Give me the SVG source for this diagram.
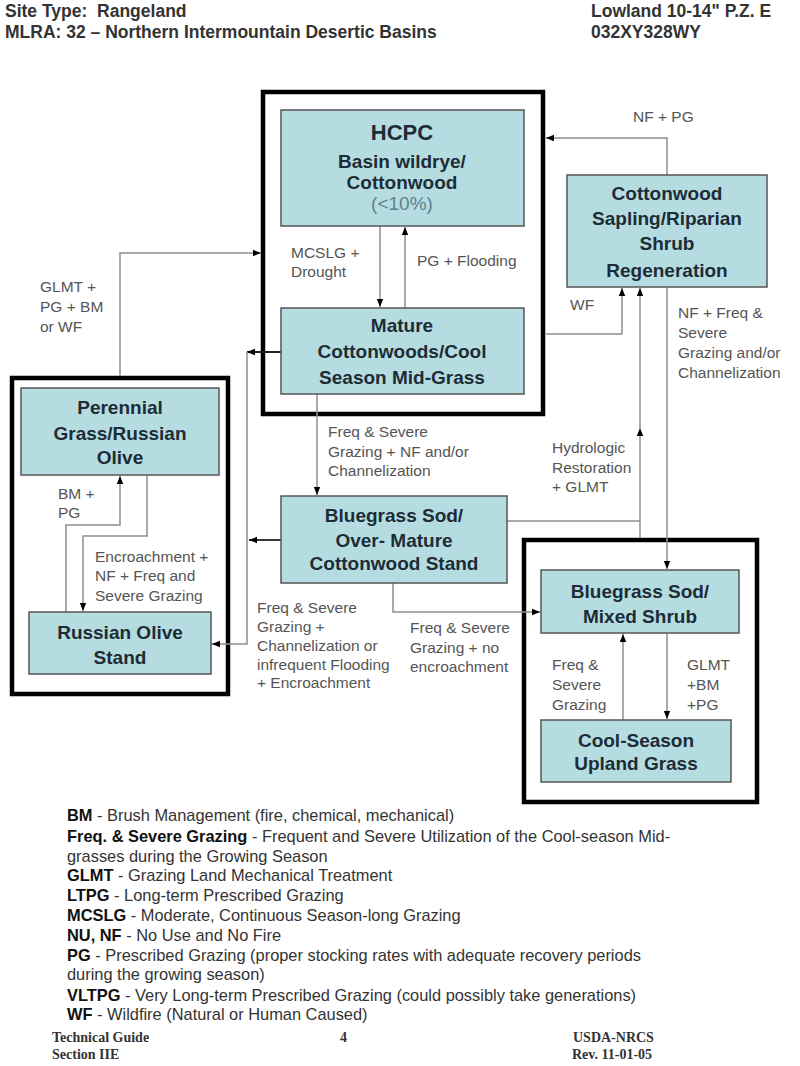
<svg xmlns="http://www.w3.org/2000/svg" width="800" height="1066" viewBox="0 0 800 1066">
<style>
.bg{fill:#ffffff}
.frame{fill:none;stroke:#000;stroke-width:4.5}
.node{fill:#b5dde1;stroke:#555;stroke-width:1.5}
.nt{font-family:"Liberation Sans",Arial,sans-serif;font-size:19px;font-weight:bold;fill:#1d2c36;text-anchor:middle}
.nt2{font-family:"Liberation Sans",Arial,sans-serif;font-size:19px;fill:#5f7f8c;text-anchor:middle}
.lbl{font-family:"Liberation Sans",Arial,sans-serif;font-size:15.5px;fill:#555}
.conn{fill:none;stroke:#8f8f8f;stroke-width:1.5}
.connd{fill:none;stroke:#222;stroke-width:1.8}
.hdr{font-family:"Liberation Sans",Arial,sans-serif;font-size:17.5px;font-weight:bold;fill:#333}
.leg{font-family:"Liberation Sans",Arial,sans-serif;font-size:16.4px;fill:#333}
.legb{font-weight:bold;fill:#111}
.ftr{font-family:"Liberation Serif","Times New Roman",serif;font-size:14px;font-weight:bold;fill:#333}
</style>
<defs>
<marker id="ah" viewBox="0 0 10 10" refX="10" refY="5" markerWidth="8" markerHeight="8" markerUnits="userSpaceOnUse" orient="auto">
<path d="M0,1 L10,5 L0,9 z" fill="#000"/>
</marker>
</defs>
<rect class="bg" x="0" y="0" width="800" height="1066"/>

<g id="header">
<text class="hdr" x="5" y="17" xml:space="preserve">Site Type:  Rangeland</text>
<text class="hdr" x="5" y="38">MLRA: 32 – Northern Intermountain Desertic Basins</text>
<text class="hdr" x="591" y="17">Lowland 10-14" P.Z. E</text>
<text class="hdr" x="591" y="38">032XY328WY</text>
</g>

<g id="frames">
<rect class="frame" x="263" y="92" width="280" height="322"/>
<rect class="frame" x="12" y="378" width="216" height="316"/>
<rect class="frame" x="524" y="540" width="233" height="262"/>
</g>

<g id="connectors">
<path class="conn" d="M380,226 V307" marker-end="url(#ah)"/>
<path class="conn" d="M405,308 V227" marker-end="url(#ah)"/>
<path class="conn" d="M120,376 V253 H261" marker-end="url(#ah)"/>
<path class="conn" d="M667,175 V138 H546" marker-end="url(#ah)"/>
<path class="conn" d="M546,334 H622 V288" marker-end="url(#ah)"/>
<path class="connd" d="M281,352 H247" marker-end="url(#ah)"/>
<path class="conn" d="M247,352 V644 H212" marker-end="url(#ah)"/>
<path class="connd" d="M281,540 H249" marker-end="url(#ah)"/>
<path class="conn" d="M317,394 V495" marker-end="url(#ah)"/>
<path class="conn" d="M507,521 H640"/>
<path class="conn" d="M640,538 V428" marker-end="url(#ah)"/>
<path class="conn" d="M640,430 V288" marker-end="url(#ah)"/>
<path class="conn" d="M667,288 V569" marker-end="url(#ah)"/>
<path class="conn" d="M393,583 V612 H540" marker-end="url(#ah)"/>
<path class="conn" d="M623,720 V634" marker-end="url(#ah)"/>
<path class="conn" d="M667,634 V719" marker-end="url(#ah)"/>
<path class="conn" d="M66,612 V525 H120 V476" marker-end="url(#ah)"/>
<path class="conn" d="M147,476 V536 H83 V611" marker-end="url(#ah)"/>
</g>

<g id="labels">
<text class="lbl" x="291" y="258">MCSLG +</text>
<text class="lbl" x="291" y="277">Drought</text>
<text class="lbl" x="417" y="266">PG + Flooding</text>
<text class="lbl" x="40" y="292">GLMT +</text>
<text class="lbl" x="40" y="312">PG + BM</text>
<text class="lbl" x="40" y="332">or WF</text>
<text class="lbl" x="633" y="122">NF + PG</text>
<text class="lbl" x="570" y="310">WF</text>
<text class="lbl" x="678" y="318">NF + Freq &amp;</text>
<text class="lbl" x="678" y="338">Severe</text>
<text class="lbl" x="678" y="358">Grazing and/or</text>
<text class="lbl" x="678" y="378">Channelization</text>
<text class="lbl" x="328" y="437">Freq &amp; Severe</text>
<text class="lbl" x="328" y="457">Grazing + NF and/or</text>
<text class="lbl" x="328" y="476">Channelization</text>
<text class="lbl" x="552" y="453">Hydrologic</text>
<text class="lbl" x="552" y="473">Restoration</text>
<text class="lbl" x="552" y="492">+ GLMT</text>
<text class="lbl" x="58" y="499">BM +</text>
<text class="lbl" x="58" y="518">PG</text>
<text class="lbl" x="95" y="562">Encroachment +</text>
<text class="lbl" x="95" y="581">NF + Freq and</text>
<text class="lbl" x="95" y="601">Severe Grazing</text>
<text class="lbl" x="257" y="613">Freq &amp; Severe</text>
<text class="lbl" x="257" y="632">Grazing +</text>
<text class="lbl" x="257" y="651">Channelization or</text>
<text class="lbl" x="257" y="670">infrequent Flooding</text>
<text class="lbl" x="257" y="688">+ Encroachment</text>
<text class="lbl" x="410" y="633">Freq &amp; Severe</text>
<text class="lbl" x="410" y="653">Grazing + no</text>
<text class="lbl" x="410" y="672">encroachment</text>
<text class="lbl" x="552" y="670">Freq &amp;</text>
<text class="lbl" x="552" y="690">Severe</text>
<text class="lbl" x="552" y="710">Grazing</text>
<text class="lbl" x="687" y="670">GLMT</text>
<text class="lbl" x="687" y="690">+BM</text>
<text class="lbl" x="687" y="710">+PG</text>
</g>

<g id="hcpc">
<rect class="node" x="281" y="110" width="243" height="116"/>
<text class="nt" x="402" y="140" style="font-size:22px">HCPC</text>
<text class="nt" x="402" y="168">Basin wildrye/</text>
<text class="nt" x="402" y="189">Cottonwood</text>
<text class="nt2" x="402" y="210">(&lt;10%)</text>
</g>

<g id="mature">
<rect class="node" x="281" y="308" width="243" height="86"/>
<text class="nt" x="402" y="332">Mature</text>
<text class="nt" x="402" y="358">Cottonwoods/Cool</text>
<text class="nt" x="402" y="384">Season Mid-Grass</text>
</g>

<g id="cottonwood-sapling">
<rect class="node" x="567" y="175" width="200" height="112"/>
<text class="nt" x="667" y="200">Cottonwood</text>
<text class="nt" x="667" y="225">Sapling/Riparian</text>
<text class="nt" x="667" y="250">Shrub</text>
<text class="nt" x="667" y="277">Regeneration</text>
</g>

<g id="perennial">
<rect class="node" x="21" y="388" width="198" height="87"/>
<text class="nt" x="120" y="414">Perennial</text>
<text class="nt" x="120" y="440">Grass/Russian</text>
<text class="nt" x="120" y="464">Olive</text>
</g>

<g id="russian-olive">
<rect class="node" x="29" y="612" width="182" height="62"/>
<text class="nt" x="120" y="639">Russian Olive</text>
<text class="nt" x="120" y="664">Stand</text>
</g>

<g id="bluegrass-overmature">
<rect class="node" x="281" y="496" width="226" height="87"/>
<text class="nt" x="394" y="522">Bluegrass Sod/</text>
<text class="nt" x="394" y="547">Over- Mature</text>
<text class="nt" x="394" y="570">Cottonwood Stand</text>
</g>

<g id="bluegrass-mixed">
<rect class="node" x="541" y="570" width="198" height="63"/>
<text class="nt" x="640" y="598">Bluegrass Sod/</text>
<text class="nt" x="640" y="623">Mixed Shrub</text>
</g>

<g id="cool-season">
<rect class="node" x="541" y="720" width="190" height="62"/>
<text class="nt" x="636" y="747">Cool-Season</text>
<text class="nt" x="636" y="770">Upland Grass</text>
</g>

<g id="legend">
<text class="leg" x="67" y="821"><tspan class="legb">BM</tspan> - Brush Management (fire, chemical, mechanical)</text>
<text class="leg" x="67" y="842"><tspan class="legb">Freq. &amp; Severe Grazing</tspan> - Frequent and Severe Utilization of the Cool-season Mid-</text>
<text class="leg" x="67" y="862">grasses during the Growing Season</text>
<text class="leg" x="67" y="881"><tspan class="legb">GLMT</tspan> - Grazing Land Mechanical Treatment</text>
<text class="leg" x="67" y="901"><tspan class="legb">LTPG</tspan> - Long-term Prescribed Grazing</text>
<text class="leg" x="67" y="921"><tspan class="legb">MCSLG</tspan> - Moderate, Continuous Season-long Grazing</text>
<text class="leg" x="67" y="941"><tspan class="legb">NU, NF</tspan> - No Use and No Fire</text>
<text class="leg" x="67" y="961"><tspan class="legb">PG</tspan> - Prescribed Grazing (proper stocking rates with adequate recovery periods</text>
<text class="leg" x="67" y="980">during the growing season)</text>
<text class="leg" x="67" y="1001"><tspan class="legb">VLTPG</tspan> - Very Long-term Prescribed Grazing (could possibly take generations)</text>
<text class="leg" x="67" y="1020"><tspan class="legb">WF</tspan> - Wildfire (Natural or Human Caused)</text>
</g>

<g id="footer">
<text class="ftr" x="52" y="1042">Technical Guide</text>
<text class="ftr" x="52" y="1059">Section IIE</text>
<text class="ftr" x="340" y="1042">4</text>
<text class="ftr" x="573" y="1042">USDA-NRCS</text>
<text class="ftr" x="572" y="1059">Rev. 11-01-05</text>
</g>
</svg>
